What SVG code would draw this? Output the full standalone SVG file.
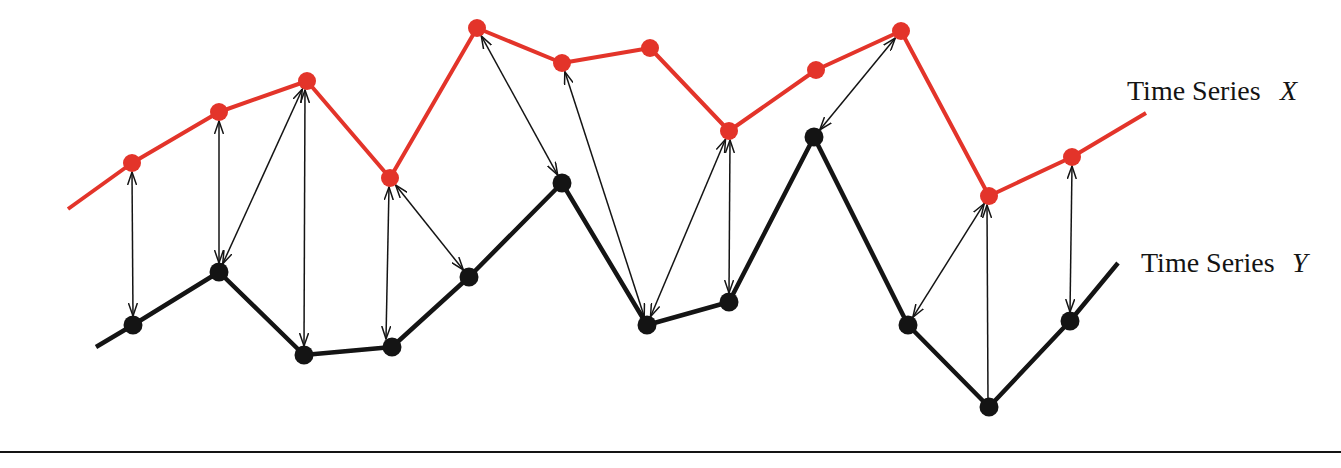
<svg xmlns="http://www.w3.org/2000/svg" width="1341" height="468" viewBox="0 0 1341 468">
<style>
.sx{fill:none;stroke:#e3342a;stroke-width:4;stroke-linejoin:round}
.sy{fill:none;stroke:#141414;stroke-width:4.5;stroke-linejoin:round}
.dx{fill:#e3342a}
.dy{fill:#141414}
.c{stroke:#141414;stroke-width:1.5;fill:none}
.lbl{font-family:"Liberation Serif","Times New Roman",serif;font-size:28px;fill:#141414}
</style>
<defs>
<marker id="ah" viewBox="0 0 14 10" refX="13" refY="5" markerWidth="14" markerHeight="10" markerUnits="userSpaceOnUse" orient="auto-start-reverse">
<path d="M0,0.5 L13,5 L0,9.5" fill="none" stroke="#141414" stroke-width="1.5"/>
</marker>
</defs>
<rect width="1341" height="468" fill="#fff"/>
<g id="series-x-line">
<polyline class="sx" points="68,209 132,163 219,112 307,81 390,178 477,28 562,63 650,48 729,131 816,70 901,31 989,196 1072,157 1146,113"/>
</g>
<g id="series-y-line">
<polyline class="sy" points="96,347 133,325 219,272 304,355 392,347 469,277 562,183 647,325 729,302 814,137 908,325 989,407 1070,321 1118,263"/>
</g>
<g id="connectors">
<line class="c" x1="132" y1="172" x2="133" y2="316" marker-start="url(#ah)" marker-end="url(#ah)"/>
<line class="c" x1="219" y1="121" x2="219" y2="263" marker-start="url(#ah)" marker-end="url(#ah)"/>
<line class="c" x1="302.3" y1="89.2" x2="222.7" y2="263.8" marker-start="url(#ah)" marker-end="url(#ah)"/>
<line class="c" x1="305" y1="90" x2="304" y2="346" marker-start="url(#ah)" marker-end="url(#ah)"/>
<line class="c" x1="389" y1="187" x2="386" y2="339" marker-start="url(#ah)" marker-end="url(#ah)"/>
<line class="c" x1="395.6" y1="185" x2="463.4" y2="270" marker-start="url(#ah)" marker-end="url(#ah)"/>
<line class="c" x1="481.3" y1="35.9" x2="557.7" y2="175.1" marker-start="url(#ah)" marker-end="url(#ah)"/>
<line class="c" x1="564.8" y1="71.6" x2="644.2" y2="316.4" marker-start="url(#ah)" marker-end="url(#ah)"/>
<line class="c" x1="725.5" y1="139.3" x2="650.5" y2="316.7" marker-start="url(#ah)" marker-end="url(#ah)"/>
<line class="c" x1="730" y1="140" x2="729" y2="293" marker-start="url(#ah)" marker-end="url(#ah)"/>
<line class="c" x1="895.3" y1="38" x2="819.7" y2="130" marker-start="url(#ah)" marker-end="url(#ah)"/>
<line class="c" x1="984.2" y1="203.6" x2="912.8" y2="317.4" marker-start="url(#ah)" marker-end="url(#ah)"/>
<line class="c" x1="987" y1="205" x2="988" y2="402" marker-start="url(#ah)"/>
<line class="c" x1="1072" y1="166" x2="1070" y2="312" marker-start="url(#ah)" marker-end="url(#ah)"/>
</g>
<g id="series-x-points">
<circle class="dx" cx="132" cy="163" r="9"/>
<circle class="dx" cx="219" cy="112" r="9"/>
<circle class="dx" cx="307" cy="81" r="9"/>
<circle class="dx" cx="390" cy="178" r="9"/>
<circle class="dx" cx="477" cy="28" r="9"/>
<circle class="dx" cx="562" cy="63" r="9"/>
<circle class="dx" cx="650" cy="48" r="9"/>
<circle class="dx" cx="729" cy="131" r="9"/>
<circle class="dx" cx="816" cy="70" r="9"/>
<circle class="dx" cx="901" cy="31" r="9"/>
<circle class="dx" cx="989" cy="196" r="9"/>
<circle class="dx" cx="1072" cy="157" r="9"/>
</g>
<g id="series-y-points">
<circle class="dy" cx="133" cy="325" r="9.5"/>
<circle class="dy" cx="219" cy="272" r="9.5"/>
<circle class="dy" cx="304" cy="355" r="9.5"/>
<circle class="dy" cx="392" cy="347" r="9.5"/>
<circle class="dy" cx="469" cy="277" r="9.5"/>
<circle class="dy" cx="562" cy="183" r="9.5"/>
<circle class="dy" cx="647" cy="325" r="9.5"/>
<circle class="dy" cx="729" cy="302" r="9.5"/>
<circle class="dy" cx="814" cy="137" r="9.5"/>
<circle class="dy" cx="908" cy="325" r="9.5"/>
<circle class="dy" cx="989" cy="407" r="9.5"/>
<circle class="dy" cx="1070" cy="321" r="9.5"/>
</g>
<g id="label-x">
<text class="lbl" x="1127" y="100">Time Series</text>
<text class="lbl" x="1280" y="100" font-style="italic">X</text>
</g>
<g id="label-y">
<text class="lbl" x="1141" y="272">Time Series</text>
<text class="lbl" x="1292" y="272" font-style="italic">Y</text>
</g>
<line x1="0" y1="452" x2="1341" y2="452" stroke="#141414" stroke-width="2"/>
</svg>
